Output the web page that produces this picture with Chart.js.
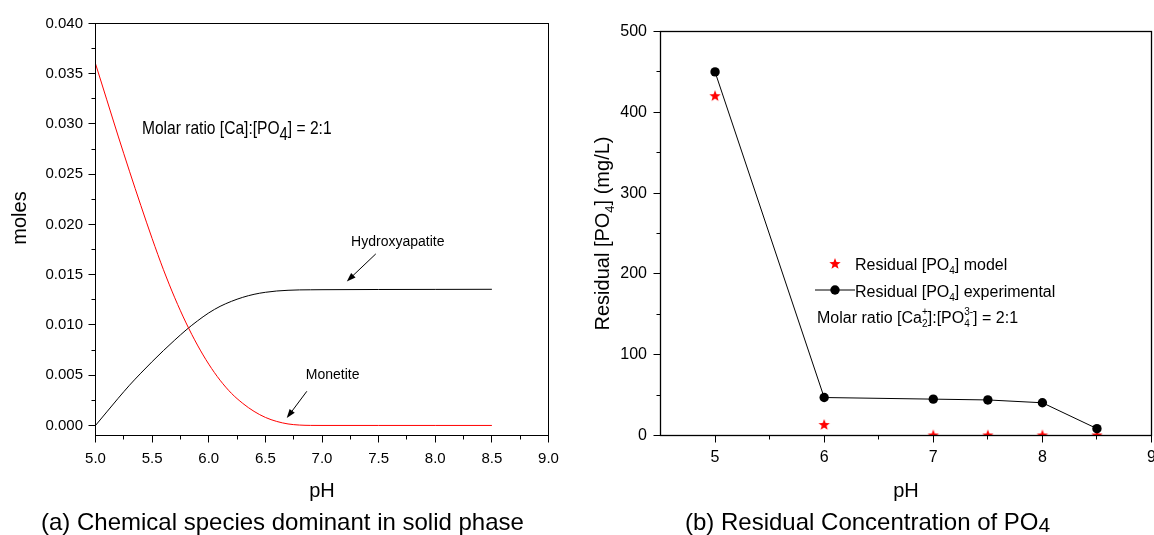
<!DOCTYPE html>
<html>
<head>
<meta charset="utf-8">
<script src="https://cdn.jsdelivr.net/npm/chart.js@4.4.1/dist/chart.umd.min.js"></script>
<style>
html, body { margin: 0; padding: 0; background: #fff; overflow: hidden; width: 1154px; height: 535px; }
canvas { position: absolute; top: 0; }
#chartA { left: 0; }
#chartB { left: 577px; }
.caption { position: absolute; top: 510px; font: 24px/24px "Liberation Sans", Arial, sans-serif; color: #000; white-space: nowrap; }
</style>
</head>
<body>
<canvas id="chartA" width="577" height="535"></canvas>
<canvas id="chartB" width="600" height="535"></canvas>
<div class="caption" style="left:41px">(a) Chemical species dominant in solid phase</div>
<div class="caption" style="left:685px">(b) Residual Concentration of PO<span style="font-size:21px;position:relative;top:2px">4</span></div>
<script>
// (a) chemical species in solid phase, moles vs pH
const phA = [5.0, 5.1, 5.2, 5.3, 5.4, 5.5, 5.6, 5.7, 5.8, 5.9, 6.0, 6.1, 6.2, 6.3, 6.4, 6.5, 6.6, 6.7, 6.8, 6.9, 7.0, 7.5, 8.0, 8.5];
const monetite = [0.0360, 0.0324, 0.0288, 0.0253, 0.0219, 0.0186, 0.0155, 0.0127, 0.0102, 0.0080, 0.0061, 0.0045, 0.0032, 0.0022, 0.0014, 0.0008, 0.0004, 0.00015, 0.00004, 0.000005, 0, 0, 0, 0];
const hydroxyapatite = [0, 0.00135, 0.0027, 0.0040, 0.0052, 0.00635, 0.00745, 0.0085, 0.0095, 0.0104, 0.0112, 0.01185, 0.01235, 0.01275, 0.01305, 0.01325, 0.01338, 0.01345, 0.01349, 0.0135, 0.01351, 0.01353, 0.01354, 0.01355];
const xTicksA = [5.0, 5.5, 6.0, 6.5, 7.0, 7.5, 8.0, 8.5, 9.0];
const xMinorA = [5.25, 5.75, 6.25, 6.75, 7.25, 7.75, 8.25, 8.75];
const yTicksA = [0, 0.005, 0.010, 0.015, 0.020, 0.025, 0.030, 0.035, 0.040];
const yMinorA = [0.0025, 0.0075, 0.0125, 0.0175, 0.0225, 0.0275, 0.0325, 0.0375];

// (b) residual PO4 (mg/L) vs pH
const phB = [5, 6, 7, 7.5, 8, 8.5];
const poModel = [420, 13, 0, 0, 0, 0];
const poExperimental = [450, 47, 45, 44, 40.5, 8.5];
const xTicksB = [5, 6, 7, 8, 9];
const xMinorB = [5.5, 6.5, 7.5, 8.5];
const yTicksB = [0, 100, 200, 300, 400, 500];
const yMinorB = [50, 150, 250, 350, 450];

Chart.defaults.font.family = '"Liberation Sans", Arial, sans-serif';
Chart.defaults.color = '#000';

const SANS = '"Liberation Sans", Arial, sans-serif';
const NARROW = '"Liberation Sans Narrow", "Liberation Sans", Arial, sans-serif';

function toPoints(xs, ys) {
  return xs.map((x, i) => ({ x: x, y: ys[i] }));
}

// filled five point star used as marker
function starImage(r, color) {
  const c = document.createElement('canvas');
  c.width = c.height = Math.ceil(r * 2) + 2;
  const g = c.getContext('2d');
  g.translate(c.width / 2, c.height / 2);
  g.beginPath();
  for (let i = 0; i < 10; i++) {
    const rr = i % 2 ? r * 0.42 : r;
    const ang = -Math.PI / 2 + i * Math.PI / 5;
    g.lineTo(rr * Math.cos(ang), rr * Math.sin(ang));
  }
  g.closePath();
  g.fillStyle = color;
  g.fill();
  return c;
}
const star = starImage(6, '#ff0000');

// text with sub / superscripts; returns the width
function rich(ctx, parts, family, draw) {
  let cx = 0;
  parts.forEach(p => {
    ctx.font = p.s + 'px ' + family;
    if (p.sub !== undefined) {
      if (draw) {
        ctx.fillText(p.sub, cx, p.dy);
        ctx.fillText(p.sup, cx, -p.up);
      }
      cx += Math.max(ctx.measureText(p.sub).width, ctx.measureText(p.sup).width);
    } else {
      if (draw) ctx.fillText(p.t, cx, p.dy || 0);
      cx += ctx.measureText(p.t).width;
    }
  });
  return cx;
}

function narrowFactor(ctx) {
  ctx.font = '20px ' + NARROW;
  const a = ctx.measureText('Molar ratio [Ca]').width;
  ctx.font = '20px ' + SANS;
  const b = ctx.measureText('Molar ratio [Ca]').width;
  return Math.abs(a - b) < 0.5 ? 0.82 : 1;
}

function arrow(ctx, x1, y1, x2, y2) {
  const ang = Math.atan2(y2 - y1, x2 - x1);
  const L = 9, W = 3.2;
  ctx.beginPath();
  ctx.moveTo(x1, y1);
  ctx.lineTo(x2 - L * 0.8 * Math.cos(ang), y2 - L * 0.8 * Math.sin(ang));
  ctx.stroke();
  ctx.beginPath();
  ctx.moveTo(x2, y2);
  ctx.lineTo(x2 - L * Math.cos(ang) - W * Math.sin(ang), y2 - L * Math.sin(ang) + W * Math.cos(ang));
  ctx.lineTo(x2 - L * Math.cos(ang) + W * Math.sin(ang), y2 - L * Math.sin(ang) - W * Math.cos(ang));
  ctx.closePath();
  ctx.fill();
}

// frame plus outward major/minor tick marks
function frame(chart, lw, ticks) {
  const { ctx, chartArea: a, scales: { x, y } } = chart;
  const px = v => Math.floor(x.getPixelForValue(v)) + 0.5;
  const py = v => Math.floor(y.getPixelForValue(v)) + 0.5;
  ctx.save();
  ctx.strokeStyle = '#000';
  ctx.lineWidth = lw;
  ctx.strokeRect(a.left, a.top, a.right - a.left, a.bottom - a.top);
  ctx.lineWidth = 1;
  ctx.beginPath();
  ticks.xMajor.forEach(v => { ctx.moveTo(px(v), a.bottom); ctx.lineTo(px(v), a.bottom + 7); });
  ticks.xMinor.forEach(v => { ctx.moveTo(px(v), a.bottom); ctx.lineTo(px(v), a.bottom + 4); });
  ticks.yMajor.forEach(v => { ctx.moveTo(a.left, py(v)); ctx.lineTo(a.left - 7, py(v)); });
  ticks.yMinor.forEach(v => { ctx.moveTo(a.left, py(v)); ctx.lineTo(a.left - 4, py(v)); });
  ctx.stroke();
  ctx.restore();
}

function axis(min, max, ticks, fmt, size, pad, fit) {
  return {
    type: 'linear', min: min, max: max,
    grid: { display: false, drawTicks: false },
    border: { display: false },
    afterBuildTicks: s => { s.ticks = ticks.map(v => ({ value: v })); },
    afterFit: fit,
    ticks: { callback: fmt, font: { size: size }, color: '#000', padding: pad, maxRotation: 0, autoSkip: false }
  };
}

const decorA = {
  id: 'decorA',
  afterDraw(chart) {
    const { ctx, chartArea: a, scales: { x, y } } = chart;
    frame(chart, 1, { xMajor: xTicksA, xMinor: xMinorA, yMajor: yTicksA, yMinor: yMinorA });
    ctx.save();
    ctx.fillStyle = '#000';
    ctx.strokeStyle = '#000';
    ctx.textBaseline = 'alphabetic';

    // axis titles
    ctx.font = '20px ' + SANS;
    ctx.textAlign = 'center';
    ctx.fillText('pH', (a.left + a.right) / 2, a.bottom + 61.5);
    ctx.save();
    ctx.translate(a.left - 70, 218);
    ctx.rotate(-Math.PI / 2);
    ctx.fillText('moles', 0, 0);
    ctx.restore();
    ctx.textAlign = 'left';

    // ratio note
    const k = narrowFactor(ctx);
    ctx.save();
    ctx.translate(x.getPixelForValue(5.41), y.getPixelForValue(0.029));
    ctx.scale(k, 1);
    rich(ctx, [{ t: 'Molar ratio [Ca]:[PO', s: 19 }, { t: '4', s: 18, dy: 6 }, { t: '] = 2:1', s: 19 }], NARROW, true);
    ctx.restore();

    // curve labels and arrows
    ctx.font = '14px ' + SANS;
    ctx.fillText('Hydroxyapatite', x.getPixelForValue(7.257), y.getPixelForValue(0.0179));
    ctx.fillText('Monetite', x.getPixelForValue(6.857), y.getPixelForValue(0.00463));
    ctx.lineWidth = 1;
    arrow(ctx, x.getPixelForValue(7.475), y.getPixelForValue(0.01707), x.getPixelForValue(7.219), y.getPixelForValue(0.01433));
    arrow(ctx, x.getPixelForValue(6.866), y.getPixelForValue(0.0034), x.getPixelForValue(6.689), y.getPixelForValue(0.00073));
    ctx.restore();
  }
};

const decorB = {
  id: 'decorB',
  afterDraw(chart) {
    const { ctx, chartArea: a } = chart;
    frame(chart, 1.3, { xMajor: xTicksB, xMinor: xMinorB, yMajor: yTicksB, yMinor: yMinorB });
    ctx.save();
    ctx.fillStyle = '#000';
    ctx.strokeStyle = '#000';
    ctx.textBaseline = 'alphabetic';
    ctx.textAlign = 'left';

    // axis titles
    ctx.font = '20px ' + SANS;
    ctx.textAlign = 'center';
    ctx.fillText('pH', (a.left + a.right) / 2, a.bottom + 61.5);
    ctx.textAlign = 'left';
    const title = [{ t: 'Residual [PO', s: 20 }, { t: '4', s: 13, dy: 5 }, { t: '] (mg/L)', s: 20 }];
    const tw = rich(ctx, title, SANS, false);
    ctx.save();
    ctx.translate(a.left - 51.5, (a.top + a.bottom) / 2);
    ctx.rotate(-Math.PI / 2);
    ctx.translate(-tw / 2, 0);
    rich(ctx, title, SANS, true);
    ctx.restore();

    // legend
    const lx = a.left + 174.5, ly = a.top + 232.5;
    ctx.drawImage(star, lx - star.width / 2, ly - star.height / 2);
    ctx.save();
    ctx.translate(lx + 20, ly + 6);
    rich(ctx, [{ t: 'Residual [PO', s: 16 }, { t: '4', s: 10, dy: 4 }, { t: '] model', s: 16 }], SANS, true);
    ctx.restore();

    ctx.lineWidth = 1;
    ctx.beginPath();
    ctx.moveTo(lx - 20, ly + 26);
    ctx.lineTo(lx + 20, ly + 26);
    ctx.stroke();
    ctx.beginPath();
    ctx.arc(lx, ly + 26, 4.7, 0, Math.PI * 2);
    ctx.fill();
    ctx.save();
    ctx.translate(lx + 20, ly + 33);
    rich(ctx, [{ t: 'Residual [PO', s: 16 }, { t: '4', s: 10, dy: 4 }, { t: '] experimental', s: 16 }], SANS, true);
    ctx.restore();

    ctx.save();
    ctx.translate(lx - 18, ly + 59);
    rich(ctx, [
      { t: 'Molar ratio [Ca', s: 16 },
      { sub: '2', sup: '+', s: 10, dy: 4, up: 8 },
      { t: ']:[PO', s: 16 },
      { sub: '4', sup: '3-', s: 10, dy: 4, up: 8 },
      { t: '] = 2:1', s: 16 }
    ], SANS, true);
    ctx.restore();
    ctx.restore();
  }
};

new Chart(document.getElementById('chartA'), {
  type: 'scatter',
  data: {
    datasets: [
      {
        label: 'Monetite',
        data: toPoints(phA, monetite),
        showLine: true,
        borderColor: '#ff0000',
        borderWidth: 1,
        pointRadius: 0,
        cubicInterpolationMode: 'monotone'
      },
      {
        label: 'Hydroxyapatite',
        data: toPoints(phA, hydroxyapatite),
        showLine: true,
        borderColor: '#000',
        borderWidth: 1,
        pointRadius: 0,
        cubicInterpolationMode: 'monotone'
      }
    ]
  },
  options: {
    responsive: false,
    animation: false,
    devicePixelRatio: 1,
    events: [],
    layout: { padding: { left: 0, top: 23.5, right: 28.5, bottom: 0 } },
    plugins: { legend: { display: false }, tooltip: { enabled: false } },
    scales: {
      x: axis(5, 9, xTicksA, v => v.toFixed(1), 15, 14, s => { s.height = 99.5; }),
      y: axis(-0.001, 0.040, yTicksA, v => v.toFixed(3), 15, 12.5, s => { s.width = 95.5; })
    }
  },
  plugins: [decorA]
});

new Chart(document.getElementById('chartB'), {
  type: 'scatter',
  data: {
    datasets: [
      {
        label: 'Residual [PO4] experimental',
        data: toPoints(phB, poExperimental),
        showLine: true,
        borderColor: '#000',
        borderWidth: 1,
        pointRadius: 4.7,
        pointBackgroundColor: '#000',
        pointBorderWidth: 0,
        tension: 0
      },
      {
        label: 'Residual [PO4] model',
        data: toPoints(phB, poModel),
        showLine: false,
        pointStyle: star,
        pointRadius: 6,
        clip: 0
      }
    ]
  },
  options: {
    responsive: false,
    animation: false,
    devicePixelRatio: 1,
    events: [],
    layout: { padding: { left: 0, top: 31.5, right: 25.5, bottom: 0 } },
    plugins: { legend: { display: false }, tooltip: { enabled: false } },
    scales: {
      x: axis(4.5, 9, xTicksB, v => String(v), 16, 12.4, s => { s.height = 99.5; }),
      y: axis(0, 500, yTicksB, v => String(v), 16, 13.5, s => { s.width = 83.5; })
    }
  },
  plugins: [decorB]
});
</script>
</body>
</html>
